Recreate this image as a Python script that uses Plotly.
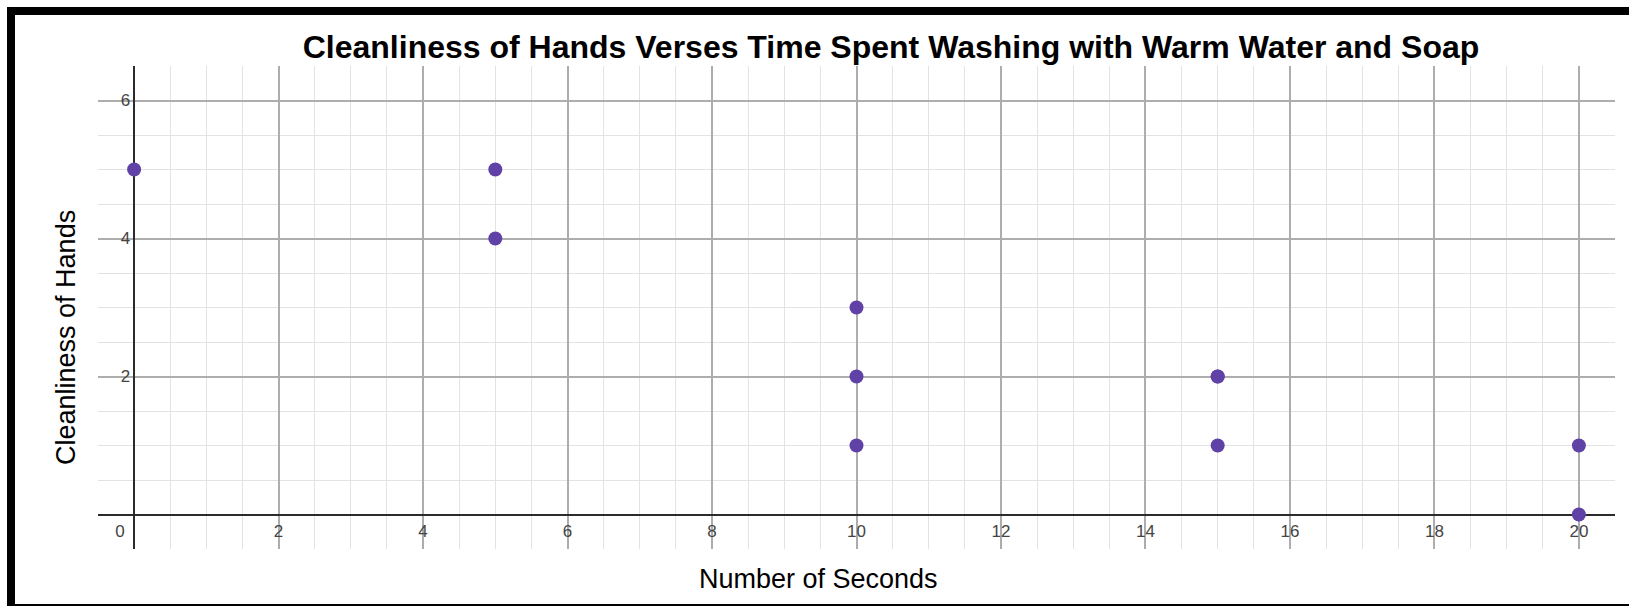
import plotly.graph_objects as go

# ---- data ----
seconds = [0, 5, 5, 10, 10, 10, 15, 15, 15, 20, 20]
cleanliness = [5, 5, 4, 3, 2, 1, 2, 2, 1, 1, 0]

x_tick_vals = [0, 2, 4, 6, 8, 10, 12, 14, 16, 18, 20]
x_tick_text = ["0\u00a0\u00a0\u00a0\u00a0\u00a0\u00a0", "2", "4", "6", "8", "10", "12", "14", "16", "18", "20"]
y_tick_vals = [2, 4, 6]
y_tick_text = ["2", "4", "6"]

title_text = "Cleanliness of Hands Verses Time Spent Washing with Warm Water and Soap"
x_title = "Number of Seconds"
y_title = "Cleanliness of Hands"

x_range = [-0.5, 20.5]
y_range = [-0.5, 6.5]

FONT = "Arial, 'Liberation Sans', sans-serif"
W, H = 1629, 606
ML, MR, MT, MB = 98, 14, 66, 57
PW = W - ML - MR
PH = H - MT - MB


def px_to_paper_x(px):
    return (px - ML) / PW


def px_to_paper_y(py):
    return (H - MB - py) / PH


fig = go.Figure()
fig.add_trace(go.Scatter(
    x=seconds, y=cleanliness, mode="markers",
    marker=dict(color="#6042a6", size=14, line=dict(width=0)),
    cliponaxis=False, showlegend=False,
))

# axis placement: axes cross at origin
x_axis_pos = (0 - y_range[0]) / (y_range[1] - y_range[0])
y_axis_pos = (0 - x_range[0]) / (x_range[1] - x_range[0])

fig.update_layout(
    width=W, height=H, autosize=False,
    margin=dict(l=ML, r=MR, t=MT, b=MB, pad=0),
    paper_bgcolor="white", plot_bgcolor="white",
    font=dict(family=FONT, color="#000000"),
    title=dict(text="<b>" + title_text + "</b>", x=891 / W, xref="container", xanchor="center",
               y=1 - 47 / H, yref="container", yanchor="middle",
               font=dict(family=FONT, size=32, color="#000000")),
    xaxis=dict(
        range=x_range, anchor="free", position=x_axis_pos,
        tickmode="array", tickvals=x_tick_vals, ticktext=x_tick_text,
        showgrid=True, gridcolor="#adadad", gridwidth=1.5,
        minor=dict(tickmode="linear", tick0=0, dtick=0.5, showgrid=True, gridcolor="#e3e3e3", gridwidth=1),
        zeroline=True, zerolinecolor="#2b2b2b", zerolinewidth=2,
        showline=False, ticks="", ticklabelstandoff=4,
        tickfont=dict(family=FONT, size=17, color="#444444"),
        fixedrange=True,
    ),
    yaxis=dict(
        range=y_range, anchor="free", position=y_axis_pos,
        tickmode="array", tickvals=y_tick_vals, ticktext=y_tick_text,
        showgrid=True, gridcolor="#adadad", gridwidth=1.5,
        minor=dict(tickmode="linear", tick0=0, dtick=0.5, showgrid=True, gridcolor="#e3e3e3", gridwidth=1),
        zeroline=True, zerolinecolor="#2b2b2b", zerolinewidth=2,
        showline=False, ticks="", ticklabelstandoff=4,
        tickfont=dict(family=FONT, size=17, color="#444444"),
        fixedrange=True,
    ),
    annotations=[
        dict(text=x_title, xref="paper", yref="paper", x=px_to_paper_x(818), y=px_to_paper_y(579),
             xanchor="center", yanchor="middle", showarrow=False,
             font=dict(family=FONT, size=27, color="#000000")),
        dict(text=y_title, xref="paper", yref="paper", x=px_to_paper_x(66), y=px_to_paper_y(338),
             xanchor="center", yanchor="middle", showarrow=False, textangle=-90,
             font=dict(family=FONT, size=27, color="#000000")),
    ],
    shapes=[
        dict(type="rect", xref="paper", yref="paper",
             x0=px_to_paper_x(11), x1=px_to_paper_x(1660),
             y0=px_to_paper_y(608), y1=px_to_paper_y(11),
             line=dict(color="#000000", width=8), fillcolor="rgba(0,0,0,0)", layer="above"),
    ],
)

fig.write_html("out.html", config={"displayModeBar": False},
               post_script="document.body.style.margin='0';document.body.style.overflow='hidden';")
